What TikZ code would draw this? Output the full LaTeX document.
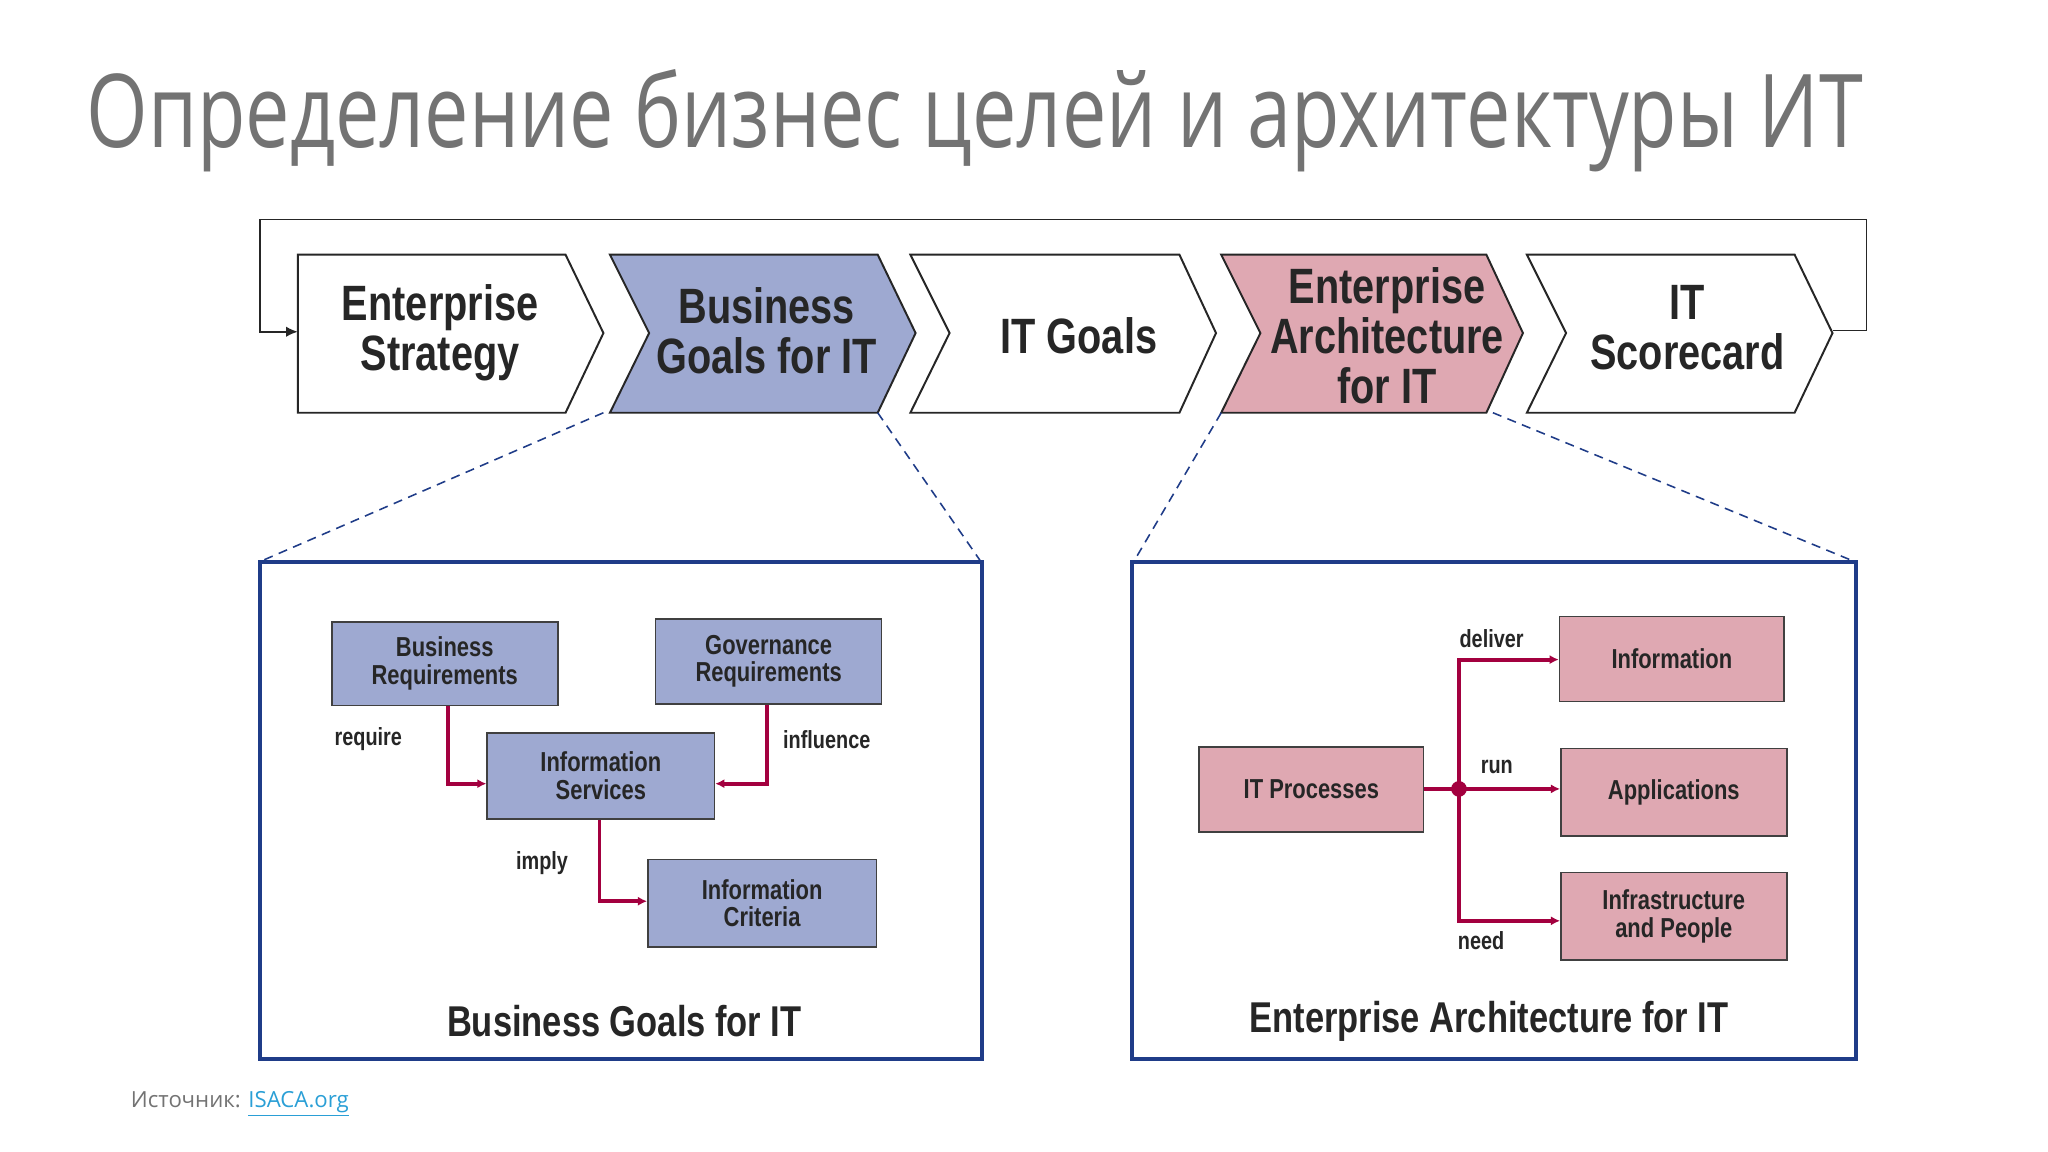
\documentclass[tikz,border=0pt]{standalone}
\usepackage{fontspec}
\setmainfont{Open Sans}
\newfontfamily\cond[FakeStretch=0.8]{Liberation Sans}
\usetikzlibrary{arrows.meta}
\definecolor{crim}{HTML}{A3003F}
\definecolor{bluef}{HTML}{9EA9D1}
\definecolor{pinkf}{HTML}{DFA8B2}
\definecolor{navy}{HTML}{1F3C88}
\tikzset{
  chev/.style={draw=black!85,line width=1.5pt},
  ctext/.style={font=\cond\bfseries\fontsize{38}{38}\selectfont,align=center,text=black!85},
  ibox/.style={draw=black!75,line width=1.2pt,font=\cond\bfseries\fontsize{21}{21}\selectfont,align=center,text=black!85,inner sep=0},
  lbl/.style={font=\cond\bfseries\fontsize{19}{19}\selectfont,text=black!85},
  con/.style={crim,line width=3pt,-{Latex[length=7pt,width=7pt]}},
  frame/.style={navy,line width=3pt},
  dsh/.style={navy,dash pattern=on 7pt off 5pt,line width=1.2pt},
}
\begin{document}
\begin{tikzpicture}[x=1pt,y=-1pt]
\useasboundingbox[fill=white] (0,0) rectangle (1568,882);
\node[anchor=base west,inner sep=0,text=black!55,font=\fontsize{78}{78}\selectfont] (title) at (66,113) {\resizebox{1360pt}{\height}{Определение бизнес целей и архитектуры ИТ}};
% chevrons
\draw[chev] (228,195) -- (433,195) -- (462,255) -- (433,316) -- (228,316) -- cycle;
\draw[chev,fill=bluef] (467,195) -- (672,195) -- (701,255) -- (672,316) -- (467,316) -- (497,255) -- cycle;
\draw[chev] (697,195) -- (903,195) -- (931,255) -- (903,316) -- (697,316) -- (727,255) -- cycle;
\draw[chev,fill=pinkf] (935,195) -- (1138,195) -- (1166,255) -- (1138,316) -- (935,316) -- (965,255) -- cycle;
\draw[chev] (1169,195) -- (1374,195) -- (1403,255) -- (1374,316) -- (1169,316) -- (1199,255) -- cycle;
\node[ctext] (c1) at (337,255) {Enterprise\\Strategy};
\node[ctext] (c2) at (587,253) {Business\\Goals for IT};
\node[ctext] (c3) at (826,257) {IT Goals};
\node[ctext] (c4) at (1062,257) {Enterprise\\Architecture\\for IT};
\node[ctext] (c5) at (1292,251) {IT\\Scorecard};
\coordinate (fa) at (1403,253);
\coordinate (fb) at (228,254);
\draw[black!85,line width=1.3pt,-{Latex[length=9pt,width=8pt]}] (fa) -- (1429,253) -- (1429,168) -- (199,168) -- (199,254) -- (fb);
% dashed
\draw[dsh] (462,316) -- (199,430);
\draw[dsh] (672,316) -- (751,430);
\draw[dsh] (935,316) -- (868,430);
\draw[dsh] (1143,316) -- (1420,430);
% frames
\draw[frame] (199,430) rectangle (752,811);
\draw[frame] (867,430) rectangle (1421,811);
% left
\node[ibox,fill=bluef,minimum width=173,minimum height=64] (br) at (340.5,508) {Business\\Requirements};
\node[ibox,fill=bluef,minimum width=173,minimum height=65] (gr) at (588.5,506.5) {Governance\\Requirements};
\node[ibox,fill=bluef,minimum width=174,minimum height=66] (is) at (460,594) {Information\\Services};
\node[ibox,fill=bluef,minimum width=175,minimum height=67] (ic) at (583.5,691.5) {Information\\Criteria};
\draw[con] (br.south -| 343,0) -- (343,600) -- (is.west |- 0,600);
\draw[con] (gr.south -| 587,0) -- (587,600) -- (is.east |- 0,600);
\draw[con] (is.south -| 459,0) -- (459,690) -- (ic.west |- 0,690);
\node[lbl] (l1) at (282,566) {require};
\node[lbl] (l2) at (633,566) {influence};
\node[lbl] (l3) at (415,661) {imply};
\node[font=\cond\bfseries\fontsize{33}{33}\selectfont,text=black!85] (t1) at (478,782) {Business Goals for IT};
% right
\node[ibox,fill=pinkf,minimum width=172,minimum height=65] (itp) at (1004,604.5) {IT Processes};
\node[ibox,fill=pinkf,minimum width=172,minimum height=65] (inf) at (1280,504.5) {Information};
\node[ibox,fill=pinkf,minimum width=173,minimum height=67] (app) at (1281.5,606.5) {Applications};
\node[ibox,fill=pinkf,minimum width=173,minimum height=67] (ip) at (1281.5,701.5) {Infrastructure\\and People};
\coordinate (j) at (1117,604);
\draw[crim,line width=3pt] (itp.east |- j) -- (j);
\fill[crim] (j) circle (6);
\draw[con] (j) -- (1117,505) -- (inf.west |- 0,505);
\draw[con] (j) -- (app.west |- j);
\draw[con] (j) -- (1117,705) -- (ip.west |- 0,705);
\node[lbl] (l4) at (1142,489) {deliver};
\node[lbl] (l5) at (1146,587) {run};
\node[lbl] (l6) at (1134,720) {need};
\node[font=\cond\bfseries\fontsize{33}{33}\selectfont,text=black!85] (t2) at (1140,782) {Enterprise Architecture for IT};
\node[anchor=base west,inner sep=0,font=\fontsize{17}{17}\selectfont,text=black!55] (src) at (100,848) {Источник: \textcolor[HTML]{2A9FD6}{\underline{ISACA.org}}};
\end{tikzpicture}
\end{document}
